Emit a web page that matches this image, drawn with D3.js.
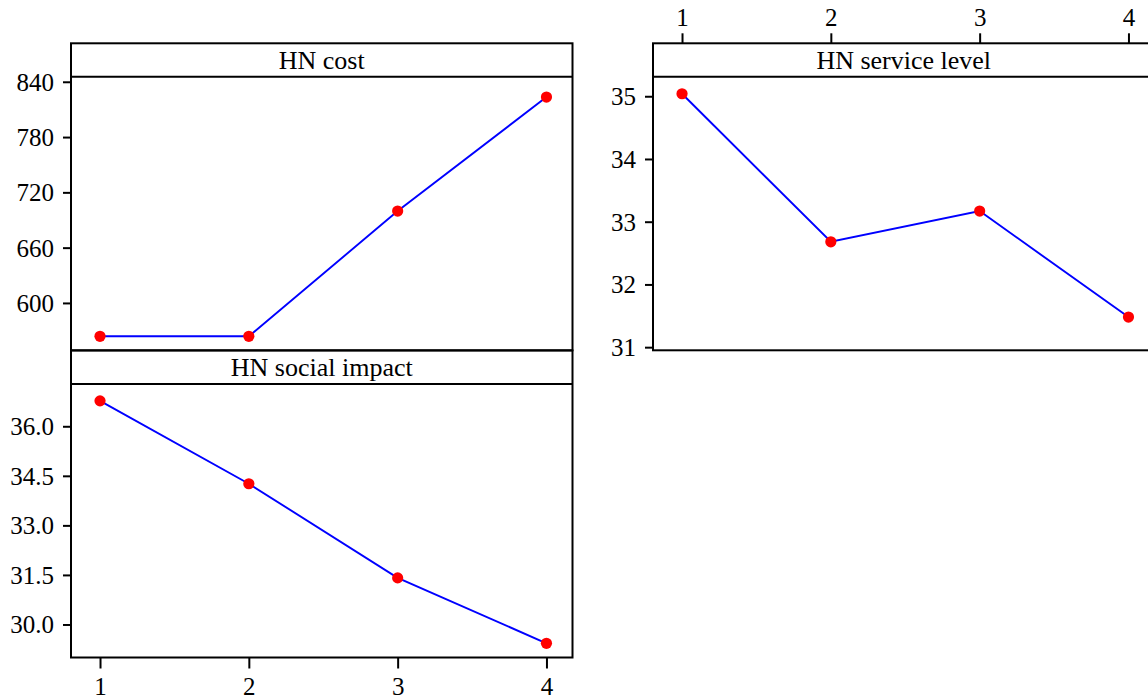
<!DOCTYPE html>
<meta charset="utf-8">
<body style="margin:0;background:#fff">
<script src="https://d3js.org/d3.v7.min.js"></script>
<script>

    // data
    var levels = [1, 2, 3, 4];
    var costValues = [563.8, 563.8, 699.7, 823.4];
    var serviceValues = [35.04, 32.68, 33.17, 31.48];
    var socialValues = [36.77, 34.26, 31.41, 29.43];

    // tick labels
    var costTicks = [600, 660, 720, 780, 840];
    var serviceTicks = [31, 32, 33, 34, 35];
    var socialTicks = [30.0, 31.5, 33.0, 34.5, 36.0];

    // y ranges shown in each panel
    var costDomain = [548.6, 845.4];
    var serviceDomain = [30.95, 35.31];
    var socialDomain = [29.0, 37.28];

    var width = 1148, height = 699;
    var panelW = 501.5, headerH = 33.5, plotH = 273.5;
    var font = "'Liberation Serif', 'Times New Roman', serif";

    var svg = d3.select("body")
        .append("svg")
        .attr("width", width)
        .attr("height", height)
        .style("display", "block");

    // shared x scale shape, one per column
    function makeX(left) {
        return d3.scaleLinear().domain([0.805, 4.175]).range([left, left + panelW]);
    }

    function panel(opt) {
        var x = makeX(opt.left);
        var top = opt.top, plotTop = top + headerH, plotBottom = plotTop + plotH;
        var y = d3.scaleLinear().domain(opt.domain).range([plotBottom, plotTop]);
        var g = svg.append("g");

        // frame and header strip
        g.append("rect")
            .attr("x", opt.left).attr("y", top)
            .attr("width", panelW).attr("height", headerH + plotH)
            .attr("fill", "none").attr("stroke", "#000").attr("stroke-width", 2);
        g.append("line")
            .attr("x1", opt.left).attr("x2", opt.left + panelW)
            .attr("y1", plotTop).attr("y2", plotTop)
            .attr("stroke", "#000").attr("stroke-width", 2);
        g.append("text")
            .attr("x", opt.left + panelW / 2)
            .attr("y", top + headerH / 2 + 8.5)
            .attr("text-anchor", "middle")
            .style("font-family", font)
            .style("font-size", "26px")
            .text(opt.title);

        // y axis
        var yAxis = g.append("g")
            .attr("transform", "translate(" + opt.left + ",0)")
            .call(d3.axisLeft(y).tickValues(opt.ticks).tickFormat(opt.format)
                .tickSize(8).tickPadding(9).tickSizeOuter(0));
        styleAxis(yAxis);
        yAxis.selectAll("text").attr("dy", "0.34em");

        // x axis, bottom or top
        if (opt.xAxis === "bottom") {
            var xb = g.append("g")
                .attr("transform", "translate(0," + plotBottom + ")")
                .call(d3.axisBottom(x).tickValues(levels).tickFormat(d3.format("d"))
                    .tickSize(11).tickPadding(9).tickSizeOuter(0));
            styleAxis(xb);
        } else if (opt.xAxis === "top") {
            var xt = g.append("g")
                .attr("transform", "translate(0," + top + ")")
                .call(d3.axisTop(x).tickValues(levels).tickFormat(d3.format("d"))
                    .tickSize(10).tickPadding(7).tickSizeOuter(0));
            styleAxis(xt);
        }

        // main effect line and points
        var line = d3.line()
            .x(function(d, i) { return x(levels[i]); })
            .y(function(d) { return y(d); });
        g.append("path")
            .datum(opt.values)
            .attr("d", line)
            .attr("fill", "none")
            .attr("stroke", "#0000ff")
            .attr("stroke-width", 1.9);
        g.selectAll(".pt")
            .data(opt.values)
            .enter().append("circle")
            .attr("cx", function(d, i) { return x(levels[i]); })
            .attr("cy", function(d) { return y(d); })
            .attr("r", 5.6)
            .attr("fill", "#ff0000");
    }

    function styleAxis(a) {
        a.select(".domain").remove();
        a.selectAll(".tick line").attr("stroke", "#000").attr("stroke-width", 2);
        a.selectAll("text")
            .attr("fill", "#000")
            .style("font-family", font)
            .style("font-size", "25px");
    }

    panel({ left: 71, top: 43.3, title: "HN cost", values: costValues,
            domain: costDomain, ticks: costTicks, format: d3.format("d"), xAxis: "none" });
    panel({ left: 71, top: 350.5, title: "HN social impact", values: socialValues,
            domain: socialDomain, ticks: socialTicks, format: d3.format(".1f"), xAxis: "bottom" });
    panel({ left: 653, top: 43.3, title: "HN service level", values: serviceValues,
            domain: serviceDomain, ticks: serviceTicks, format: d3.format("d"), xAxis: "top" });

</script>
</body>
</html>
